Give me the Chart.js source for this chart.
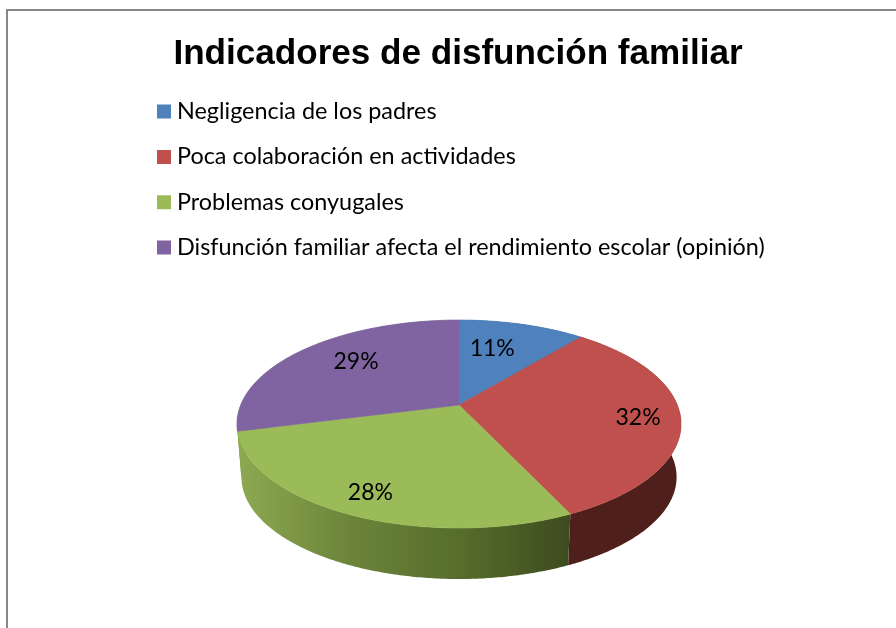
<!DOCTYPE html>
<html>
<head>
<meta charset="utf-8">
<title>Indicadores de disfunción familiar</title>
<script src="https://cdn.jsdelivr.net/npm/chart.js@4"></script>
<style>
    html, body { margin: 0; padding: 0; background: #fff; overflow: hidden; }
    canvas { display: block; }
</style>
</head>
<body>
<canvas id="chart" width="896" height="628"></canvas>
<script>
const chartTitle = "Indicadores de disfunción familiar"
const categories = [
    "Negligencia de los padres",
    "Poca colaboración en actividades",
    "Problemas conyugales",
    "Disfunción familiar afecta el rendimiento escolar (opinión)"
]
const values = [11, 32, 28, 29]
const colors = ["#4f81bd", "#c0504d", "#9bbb59", "#8064a2"]

// 옆면 그라데이션 (왼쪽 -> 오른쪽)
const sideShades = [
    ["#2c4a70", "#2c4a70"],
    ["#4f1f1b", "#4a1c19"],
    ["#8ea952", "#6c853a", "#566d2c", "#3c4b1e"],
    ["#7a9640", "#7a9640"]
]
// 라벨 미세 위치 조정
const labelNudge = [[-13, 3], [25, 4], [-15, 16], [9, -3]]

// 원근 투영 값
const pie = { cx: 459, cy: 405, rx: 218.3, ry: 100.5, k: 0.1827, depth: 53.5, bottomScale: 0.98 }
const legendTop = 78

function project(angle, t, lower) {
    const u = Math.cos(angle) * t
    const v = -Math.sin(angle) * t
    const w = 1 + pie.k * v
    const s = lower ? pie.bottomScale : 1
    return {
        x: pie.cx + s * pie.rx * u / w,
        y: pie.cy + (lower ? pie.depth : 0) - s * pie.ry * v / w
    }
}

function rimPath(ctx, from, to, lower, first) {
    const steps = Math.max(2, Math.ceil(Math.abs(to - from) / 0.01))
    for (let i = 0; i <= steps; i++) {
        const p = project(from + (to - from) * i / steps, 1, lower)
        if (i === 0 && first) {
            ctx.moveTo(p.x, p.y)
        } else {
            ctx.lineTo(p.x, p.y)
        }
    }
}

const pie3d = {
    id: "pie3d",
    beforeDraw(chart) {
        // 범례 세로 위치
        chart.legend.top = legendTop
        chart.legend.bottom = legendTop + chart.legend.height
        chart.legend.adjustHitBoxes()

        // 테두리
        const ctx = chart.ctx
        ctx.save()
        ctx.fillStyle = "#868686"
        ctx.fillRect(6, 9, 890, 2)
        ctx.fillRect(6, 9, 2, 619)
        ctx.restore()
    },
    beforeDatasetsDraw(chart) {
        const ctx = chart.ctx
        const arcs = chart.getDatasetMeta(0).data

        // 옆면 먼저
        ctx.save()
        ;[0, 3, 1, 2].forEach(function (i) {
            const arc = arcs[i]
            const grad = ctx.createLinearGradient(pie.cx - 222, 0, 572, 0)
            sideShades[i].forEach(function (c, n) {
                grad.addColorStop(n / (sideShades[i].length - 1), c)
            })
            ctx.beginPath()
            rimPath(ctx, arc.startAngle, arc.endAngle, false, true)
            rimPath(ctx, arc.endAngle, arc.startAngle, true, false)
            ctx.closePath()
            ctx.fillStyle = i === 1 ? sideShades[1][0] : grad
            ctx.fill()
        })

        // 윗면 (조각 사이 틈 방지용 얇은 선 포함)
        arcs.forEach(function (arc, i) {
            ctx.beginPath()
            ctx.moveTo(pie.cx, pie.cy)
            rimPath(ctx, arc.startAngle, arc.endAngle, false, false)
            ctx.closePath()
            ctx.fillStyle = colors[i]
            ctx.strokeStyle = colors[i]
            ctx.lineWidth = 0.7
            ctx.fill()
            ctx.stroke()
        })

        // 퍼센트 라벨
        const total = values.reduce(function (a, b) { return a + b }, 0)
        ctx.fillStyle = "#000"
        ctx.font = "23px Lato"
        ctx.textAlign = "center"
        ctx.textBaseline = "middle"
        arcs.forEach(function (arc, i) {
            const p = project((arc.startAngle + arc.endAngle) / 2, 0.7, false)
            ctx.fillText(Math.round(values[i] / total * 100) + "%", p.x + labelNudge[i][0], p.y + labelNudge[i][1])
        })
        ctx.restore()
        return false
    }
}

new Chart(document.getElementById("chart"), {
    type: "pie",
    data: {
        labels: categories,
        datasets: [{
            data: values,
            backgroundColor: colors,
            borderWidth: 0
        }]
    },
    options: {
        responsive: false,
        animation: false,
        layout: { padding: { left: 140.8, right: 120.8 } },
        plugins: {
            title: {
                display: true,
                text: chartTitle,
                color: "#000",
                font: { family: "'Liberation Sans'", size: 35.1, weight: "bold" },
                padding: { top: 33, bottom: 4 }
            },
            legend: {
                position: "chartArea",
                align: "start",
                labels: {
                    usePointStyle: true,
                    pointStyle: "rect",
                    boxWidth: 2.6,
                    boxHeight: 14,
                    padding: 21.9,
                    color: "#000",
                    font: { family: "Lato", size: 23.4 }
                }
            },
            tooltip: { enabled: false }
        }
    },
    plugins: [pie3d]
})
</script>
</body>
</html>
